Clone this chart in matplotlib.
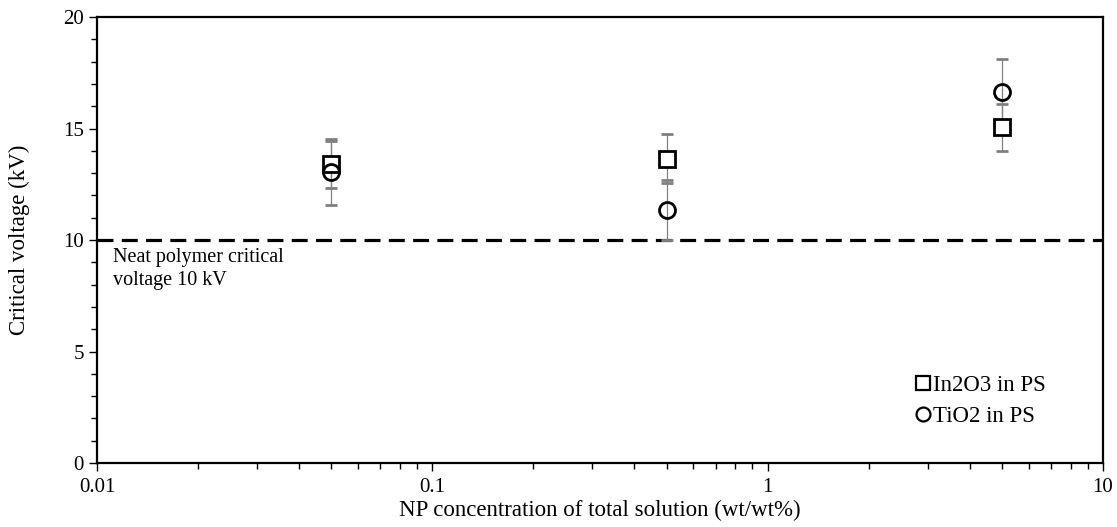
import numpy as np
import matplotlib
matplotlib.use("Agg")
import matplotlib.pyplot as plt
from matplotlib.lines import Line2D
from matplotlib.ticker import FixedLocator, MultipleLocator, FuncFormatter, LogLocator

plt.rcParams['font.family'] = ['Liberation Serif', 'DejaVu Serif']

# data
conc = [0.05, 0.5, 5]
in2o3_v = [13.4, 13.65, 15.05]
in2o3_err = [1.05, 1.1, 1.07]
tio2_v = [13.05, 11.35, 16.65]
tio2_err = [1.48, 1.35, 1.45]
neat_v = 10
labels = ['In2O3 in PS', 'TiO2 in PS']

fig = plt.figure(figsize=(11.17, 5.27), dpi=100)
ax = fig.add_axes([0.0868, 0.1214, 0.9007, 0.8463])

ax.axhline(neat_v, color='black', lw=2.3, ls=(0, (5, 2.6)), zorder=1)

ax.errorbar(conc, in2o3_v, yerr=in2o3_err, fmt='s', ms=11.5, mfc='white',
            mec='black', mew=2.0, ecolor='#808080', elinewidth=0.9,
            capsize=4, capthick=0.9, zorder=3)
ax.errorbar(conc, tio2_v, yerr=tio2_err, fmt='o', ms=11.5, mfc='none',
            mec='black', mew=2.0, ecolor='#808080', elinewidth=0.9,
            capsize=4, capthick=0.9, zorder=3)

ax.set_xscale('log')
ax.set_xlim(0.01, 10)
ax.set_ylim(0, 20)
ax.xaxis.set_major_locator(FixedLocator([0.01, 0.1, 1, 10]))
ax.xaxis.set_minor_locator(LogLocator(base=10, subs=np.arange(2, 10)))
ax.xaxis.set_major_formatter(FuncFormatter(lambda v, p: '%g' % v))
ax.yaxis.set_major_locator(MultipleLocator(5))
ax.yaxis.set_minor_locator(MultipleLocator(1))

ax.tick_params(which='both', direction='out', width=1.0, labelsize=15,
               colors='black')
ax.tick_params(which='major', length=6)
ax.tick_params(which='minor', length=4.5)
ax.tick_params(axis='x', which='major', pad=5)
for s in ax.spines.values():
    s.set_linewidth(1.6)

ax.set_xlabel('NP concentration of total solution (wt/wt%)', fontsize=16.5,
              labelpad=2)
ax.set_ylabel('Critical voltage (kV)', fontsize=16.5, labelpad=24)

ax.text(0.01115, 9.65, 'Neat polymer critical\nvoltage 10 kV', fontsize=14.5,
        va='top', ha='left', linespacing=1.3)

handles = [Line2D([], [], ls='none', marker='s', ms=10, mfc='none', mec='black', mew=1.6),
           Line2D([], [], ls='none', marker='o', ms=10, mfc='none', mec='black', mew=1.6)]
ax.legend(handles, labels, loc='lower right', bbox_to_anchor=(0.964, 0.035),
          frameon=False, fontsize=16.5, handletextpad=0.0, handlelength=0.9,
          labelspacing=0.42)

fig.savefig('out.png', dpi=100)
